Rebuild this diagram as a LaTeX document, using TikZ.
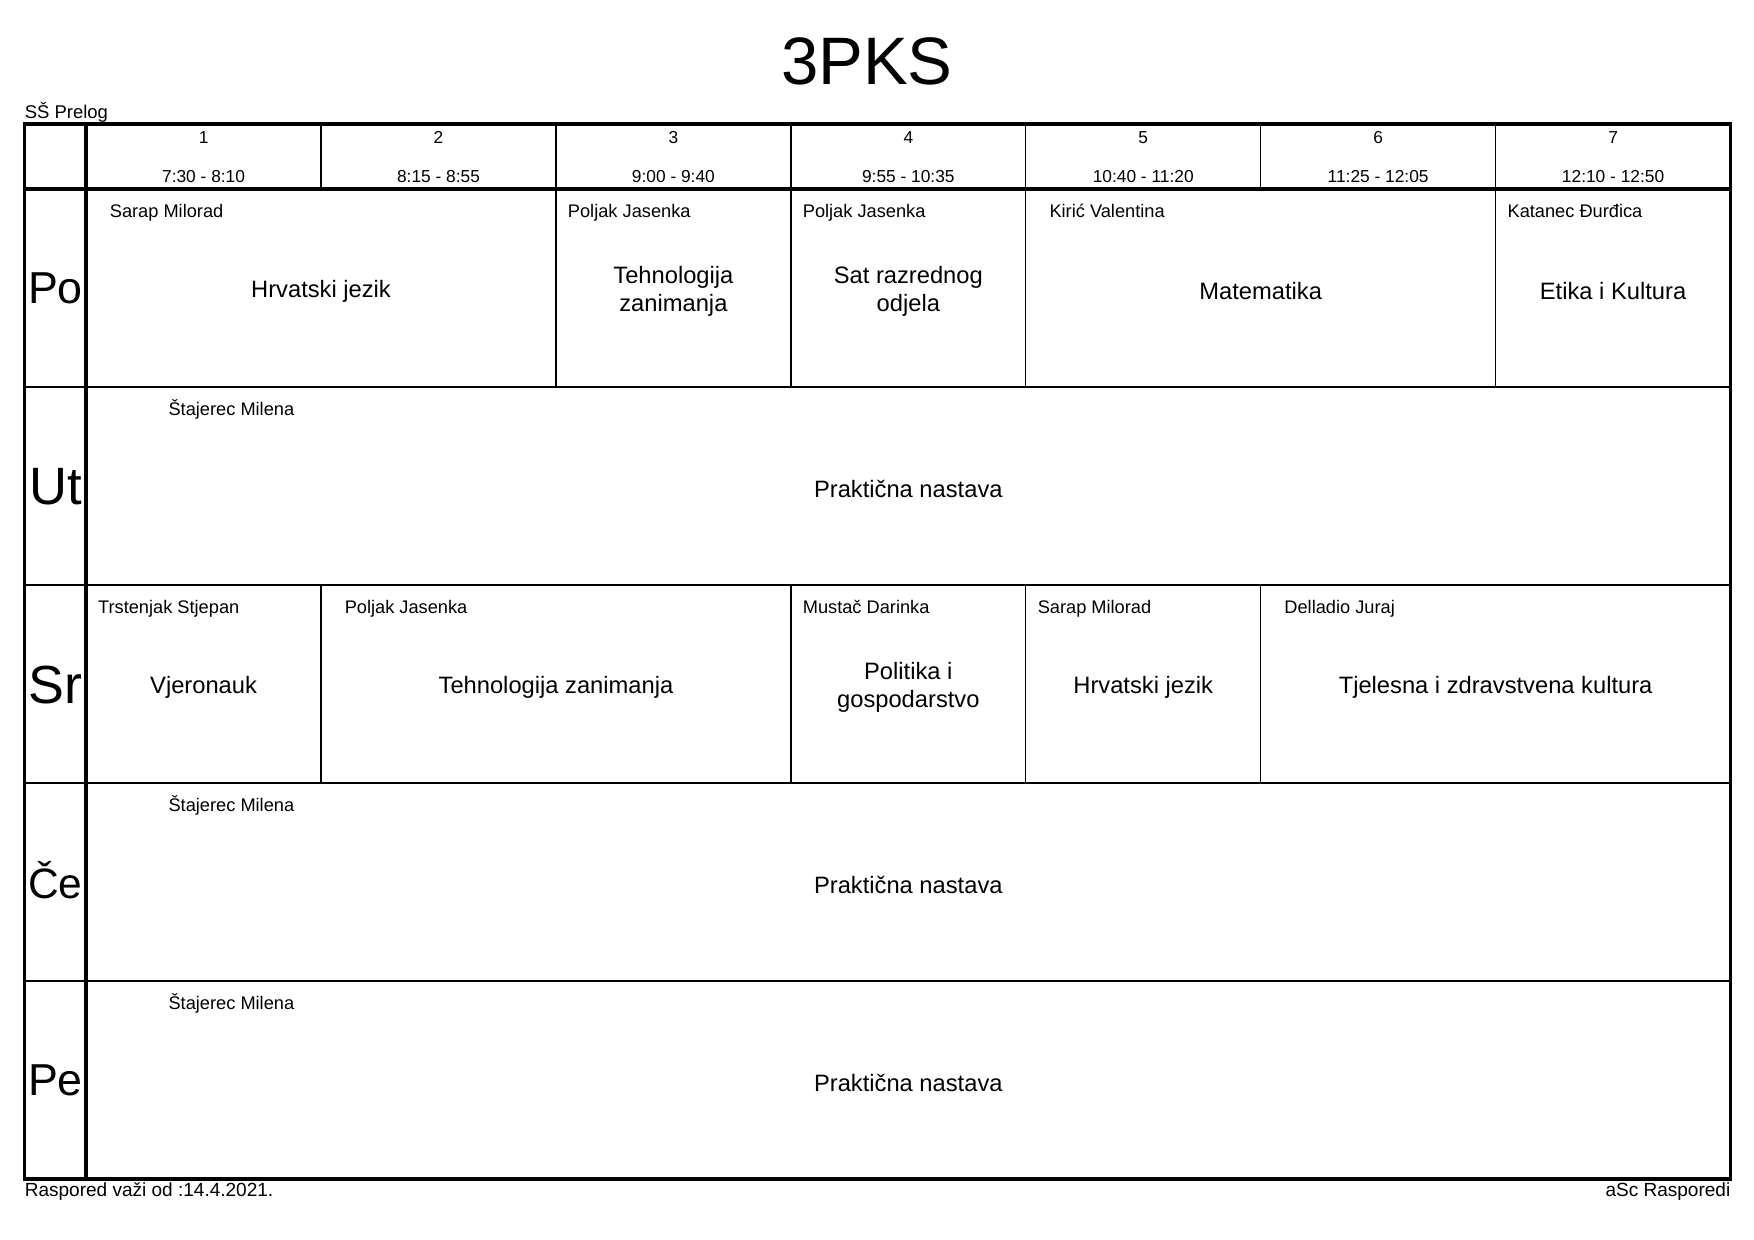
\documentclass[tikz,border=0pt]{standalone}
\usepackage{fontspec}
\setmainfont{Liberation Sans}
\usepackage{tikz}

\tikzset{
    frame/.style={line width=3.2pt},
    rule/.style={line width=1.2pt},
    hdr/.style={anchor=base, inner sep=0pt, font=\fontsize{15.5}{18}\selectfont},
    teacher/.style={anchor=base west, inner sep=0pt, font=\fontsize{16.3}{19}\selectfont},
    subject/.style={align=center, inner sep=0pt, font=\fontsize{21.2}{25}\selectfont},
    note/.style={inner sep=0pt, font=\fontsize{17}{20}\selectfont},
    day/.style={inner sep=0pt}
}

\begin{document}
\begin{tikzpicture}[x=1pt, y=-1pt]
            \useasboundingbox (0, 0) rectangle (1568, 1108.5);

            \foreach \y in {346, 523, 700, 877}
                \draw[rule] (22, \y) -- (1547, \y);
            \foreach \x in {287, 497, 707, 917, 1127, 1337}
                \draw[rule] (\x, 111) -- (\x, 169);
            \foreach \x in {497, 707, 917, 1337}
                \draw[rule] (\x, 169) -- (\x, 346);
            \foreach \x in {287, 707, 917, 1127}
                \draw[rule] (\x, 523) -- (\x, 700);
            \draw[frame] (22, 111) rectangle (1547, 1054);
            \draw[frame] (77, 111) -- (77, 1054);
            \draw[frame] (22, 169) -- (1547, 169);

            \node[inner sep=0pt, font=\fontsize{60}{70}\selectfont] (title) at (775, 55) {3PKS};
            \node[note, anchor=base west, font=\fontsize{16.5}{20}\selectfont] (school) at (22, 106) {SŠ Prelog};
            \node[note, anchor=base west] (valid) at (22, 1070) {Raspored važi od :14.4.2021.};
            \node[note, anchor=base east] (maker) at (1547, 1070) {aSc Rasporedi};

            \foreach \n/\t [evaluate=\n as \cx using 77+210*\n-105] in
                {1/7:30 - 8:10, 2/8:15 - 8:55, 3/9:00 - 9:40, 4/9:55 - 10:35,
                 5/10:40 - 11:20, 6/11:25 - 12:05, 7/12:10 - 12:50} {
                \node[hdr] (h\n) at (\cx, 128) {\n};
                \node[hdr] (t\n) at (\cx, 163) {\t};
            }

            \node[day, font=\fontsize{40}{40}\selectfont] (po) at (49.5, 258) {Po};
            \node[day, font=\fontsize{47}{47}\selectfont] (ut) at (49.5, 435) {Ut};
            \node[day, font=\fontsize{48}{48}\selectfont] (sr) at (49.5, 612) {Sr};
            \node[day, font=\fontsize{38}{38}\selectfont] (ce) at (49.5, 787) {Če};
            \node[day, font=\fontsize{40}{40}\selectfont] (pe) at (49.5, 966) {Pe};

            \node[teacher] (poA) at (98, 194) {Sarap Milorad};
            \node[subject] (poAs) at (287, 260.5) {Hrvatski jezik};
            \node[teacher] (poB) at (507.5, 194) {Poljak Jasenka};
            \node[subject] (poBs) at (602, 260.5) {Tehnologija\\zanimanja};
            \node[teacher] (poC) at (717.5, 194) {Poljak Jasenka};
            \node[subject] (poCs) at (812, 260.5) {Sat razrednog\\odjela};
            \node[teacher] (poD) at (938, 194) {Kirić Valentina};
            \node[subject] (poDs) at (1127, 260.5) {Matematika};
            \node[teacher] (poE) at (1347.5, 194) {Katanec Đurđica};
            \node[subject] (poEs) at (1442, 260.5) {Etika i Kultura};

            \node[teacher] (utA) at (150.5, 371) {Štajerec Milena};
            \node[subject] (utAs) at (812, 437.5) {Praktična nastava};

            \node[teacher] (srA) at (87.5, 548) {Trstenjak Stjepan};
            \node[subject] (srAs) at (182, 614.5) {Vjeronauk};
            \node[teacher] (srB) at (308, 548) {Poljak Jasenka};
            \node[subject] (srBs) at (497, 614.5) {Tehnologija zanimanja};
            \node[teacher] (srC) at (717.5, 548) {Mustač Darinka};
            \node[subject] (srCs) at (812, 614.5) {Politika i\\gospodarstvo};
            \node[teacher] (srD) at (927.5, 548) {Sarap Milorad};
            \node[subject] (srDs) at (1022, 614.5) {Hrvatski jezik};
            \node[teacher] (srE) at (1148, 548) {Delladio Juraj};
            \node[subject] (srEs) at (1337, 614.5) {Tjelesna i zdravstvena kultura};

            \node[teacher] (ceA) at (150.5, 725) {Štajerec Milena};
            \node[subject] (ceAs) at (812, 791.5) {Praktična nastava};

            \node[teacher] (peA) at (150.5, 902) {Štajerec Milena};
            \node[subject] (peAs) at (812, 968.5) {Praktična nastava};

        \end{tikzpicture}
\end{document}
